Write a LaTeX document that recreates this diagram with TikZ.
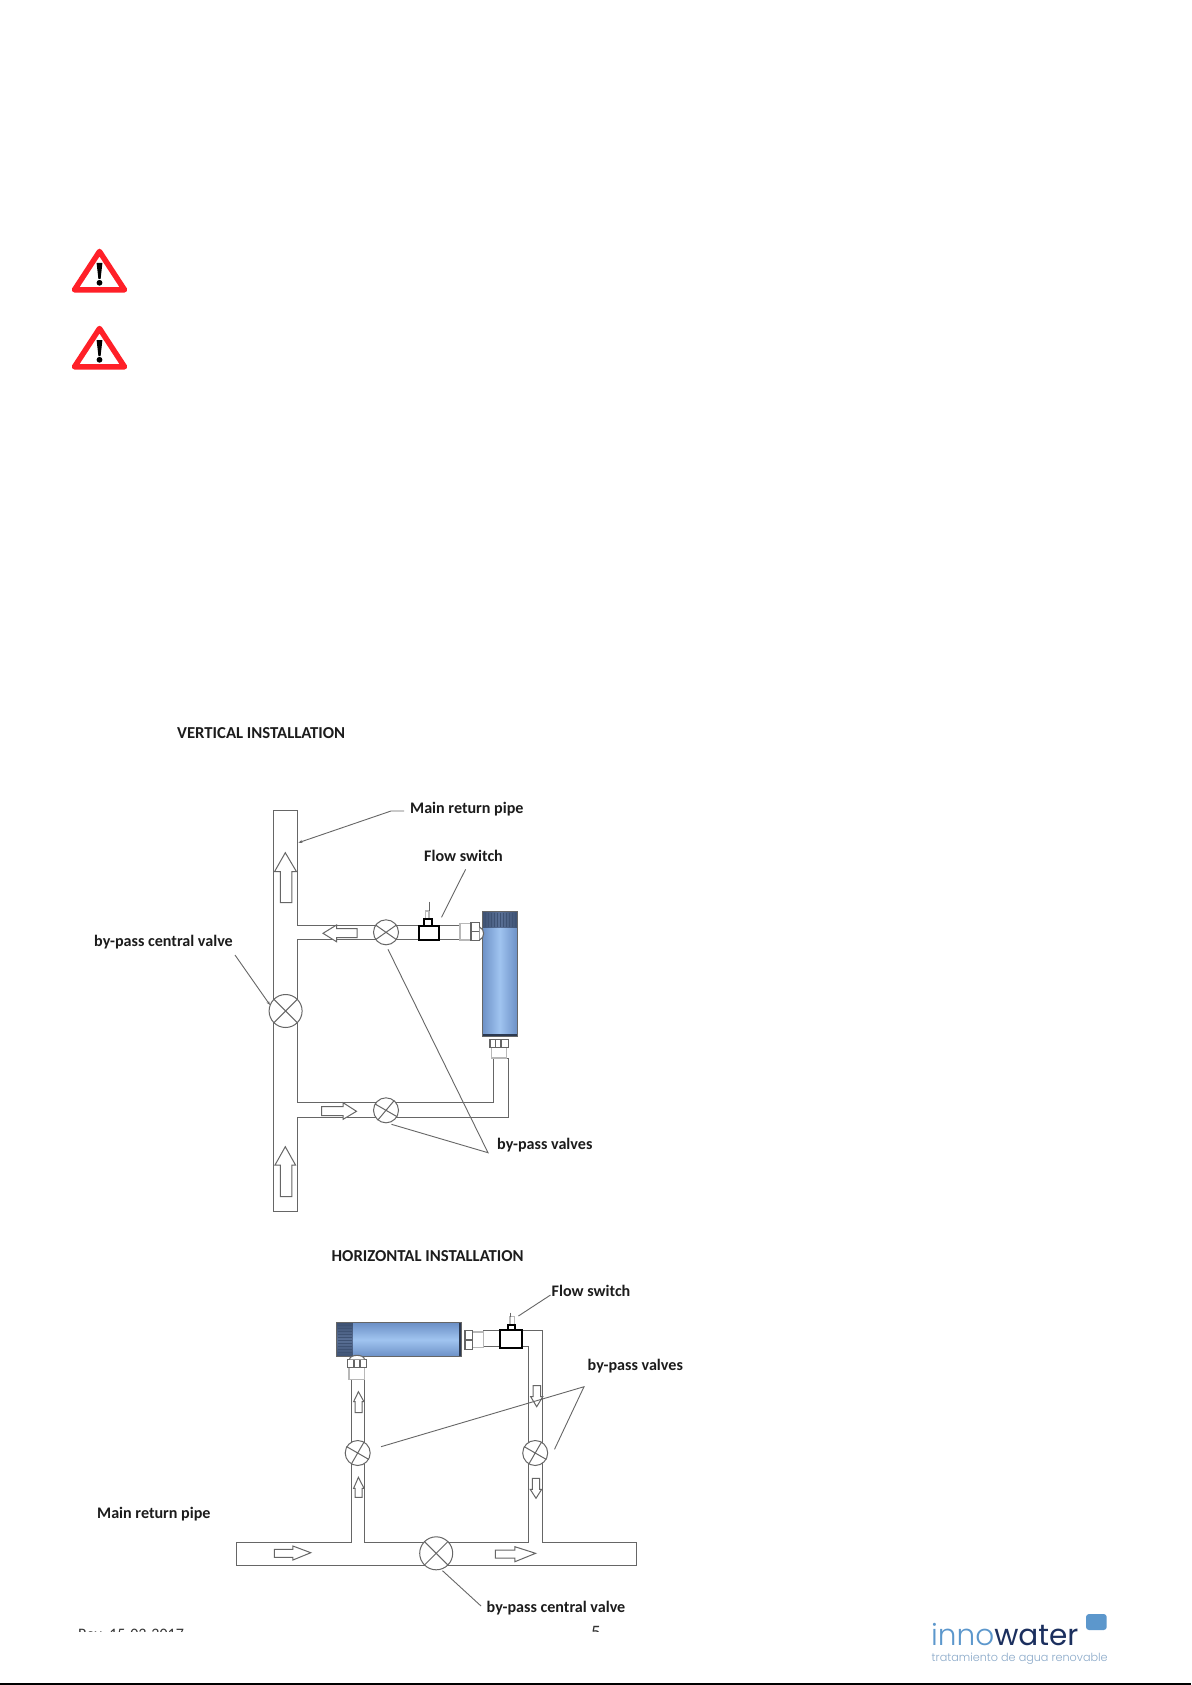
\documentclass[tikz,border=0pt]{standalone}
\usepackage{fontspec}
\setmainfont{Carlito}
\newfontfamily\logofont{Poppins Light}
\newfontfamily\logofontb{Poppins}
\usetikzlibrary{shapes.geometric,arrows.meta}
\definecolor{pipec}{HTML}{666666}
\definecolor{fitc}{HTML}{B8B8B8}
\definecolor{capd}{HTML}{3E5273}
\definecolor{capl}{HTML}{5A7096}
\definecolor{bodyd}{HTML}{6C90C6}
\definecolor{bodyl}{HTML}{A0C4F0}
\definecolor{warnred}{HTML}{FF2028}
\definecolor{logol}{HTML}{5C97CC}
\definecolor{logod}{HTML}{1B2F5E}
\definecolor{logos}{HTML}{8AA9C9}
\definecolor{labelc}{HTML}{1C1C1C}
\tikzset{
 pipe/.style={draw=pipec,line width=1pt},
 fit light/.style={draw=fitc,line width=1.1pt,fill=white},
 fit dark/.style={draw=pipec,line width=1.1pt,fill=white},
 flow/.style={draw=pipec,line width=1pt,fill=white,line join=miter},
 leader/.style={draw=pipec,line width=.9pt},
 lab/.style={font=\fontsize{16.1}{18}\selectfont\bfseries,text=labelc,inner sep=0pt,anchor=west},
 ttl/.style={font=\fontsize{16.7}{18}\selectfont\bfseries,text=labelc,inner sep=0pt,anchor=west},
 valve/.style={ellipse,draw=pipec,line width=1pt,fill=white,minimum width=#1,minimum height=#1,inner sep=0pt},
 switchbox/.style={draw=black,line width=2pt,fill=white},
 warn/.style={draw=warnred,fill=white,line width=5.5pt,line join=round},
 foot/.style={font=\fontsize{16}{18}\selectfont,text=black!80,inner sep=0pt,anchor=base west},
}
\begin{document}
\begin{tikzpicture}[x=1pt,y=-1pt]
\useasboundingbox (0,0) rectangle (1191,1685);
\fill[white] (0,0) rectangle (1191,1685);

% warning signs
\foreach \o in {0,77}{
 \begin{scope}[yshift=-\o pt]
 \draw[warn] (99.5,251.5) -- (124.5,289.8) -- (74.5,289.8) -- cycle;
 \fill[black] (96.6,263) -- (102.4,263) -- (100.6,279) -- (98.4,279) -- cycle;
 \fill[black] (99.5,282.8) circle (2.9);
 \end{scope}
}

% ---------- vertical installation ----------
\node[ttl] (vt) at (177,733.5) {VERTICAL INSTALLATION};
\node[lab] (vmain) at (410,809) {Main return pipe};
\node[lab] (vflow) at (424,856) {Flow switch};
\node[lab] (vcen) at (94,942.5) {by-pass central valve};
\node[lab] (vby) at (497,1145) {by-pass valves};

% pipes
\draw[pipe] (297.2,925.7) -- (297.2,810.7) -- (273.9,810.7) -- (273.9,1211.7) -- (297.2,1211.7) -- (297.2,1117.7) -- (508,1117.7) -- (508,1058) -- (493.4,1058) -- (493.4,1102.7) -- (297.2,1102.7) -- (297.2,939.5) -- (460,939.5) -- (460,925.7) -- cycle;
% fittings
\draw[fit light] (460,923.5) rectangle (471,940);
\draw[fit dark] (471,922.5) rectangle (479.5,940.5);
\draw[fit dark] (471,931.5) -- (479.5,931.5);
\draw[fit light] (491.7,1047.7) rectangle (506.7,1058);
\draw[fit dark] (490,1039.3) rectangle (508.3,1047.7);
\draw[fit dark] (495.5,1039.3) -- (495.5,1047.7) (501,1039.3) -- (501,1047.7);
% filter
\shade[left color=bodyd,right color=bodyd,middle color=bodyl] (482,927.7) rectangle (517.3,1034);
\shade[left color=capd,right color=capd,middle color=capl] (482,911.7) rectangle (517.3,927.7);
\foreach \x in {485,488,...,515}{\draw[capd,line width=.5pt] (\x,912.5) -- (\x,927);}
\fill[capd!70!black] (482,1033.8) rectangle (517.3,1036.7);
\draw[pipec,line width=.7pt] (482,911.7) rectangle (517.3,1036.7);
\draw[fit dark] (479.5,927) .. controls (485,929) and (485,938) .. (479.5,940);
% switch
\draw[fit light] (425.7,911) rectangle (429,919.3);
\draw[pipec,line width=.9pt] (429,901.7) -- (429,911);
\draw[switchbox] (423.7,919.3) rectangle (431.7,925.7);
\draw[switchbox] (418.7,925.7) rectangle (439,940);
% valves
\node[valve=33,name=vvc] at (285.6,1011) {};
\draw[pipe] (vvc.45) -- (vvc.225) (vvc.135) -- (vvc.315);
\node[valve=25,name=vvu] at (386,932.3) {};
\draw[pipe] (vvu.35) -- (vvu.215) (vvu.145) -- (vvu.325);
\node[valve=25,name=vvl] at (386,1110.3) {};
\draw[pipe] (vvl.50) -- (vvl.230) (vvl.150) -- (vvl.330);
% flow arrows
\begin{scope}[xshift=-1.5pt]
\draw[flow] (286.8,852.7) -- (298,871.7) -- (293.3,871.7) -- (293.3,902.7) -- (281.8,902.7) -- (281.8,871.7) -- (276,871.7) -- cycle;
\draw[flow] (286.8,1146.7) -- (297,1165) -- (293.3,1165) -- (293.3,1196.7) -- (281.8,1196.7) -- (281.8,1165) -- (276.5,1165) -- cycle;
\draw[flow] (324.5,933.3) -- (338,925) -- (338,928.7) -- (358.6,928.7) -- (358.6,937.7) -- (338,937.7) -- (338,941.7) -- cycle;
\draw[flow] (358,1111.3) -- (344.6,1102.7) -- (344.6,1106.7) -- (323,1106.7) -- (323,1115.7) -- (344.6,1115.7) -- (344.6,1119.3) -- cycle;
\end{scope}
% leaders
\coordinate (lm0) at (391,811);
\coordinate (lm1) at (404,811);
\coordinate (lm2) at (298.4,842.7);
\draw[leader,-{Stealth[length=4pt,width=3pt]}] (lm1) -- (lm0) -- (lm2);
\coordinate (lf0) at (465.6,869.3);
\coordinate (lf1) at (441.5,917.3);
\draw[leader] (lf0) -- (lf1);
\coordinate (lc0) at (235,955);
\coordinate (lc1) at (270,1005);
\draw[leader,-{Stealth[length=4pt,width=3pt]}] (lc0) -- (lc1);
\coordinate (lb0) at (488,1152.7);
\coordinate (lb1) at (388,949.3);
\coordinate (lb2) at (391.5,1124.3);
\draw[leader] (lb1) -- (lb0) -- (lb2);

% ---------- horizontal installation ----------
\node[ttl] (ht) at (331.5,1256.5) {HORIZONTAL INSTALLATION};
\node[lab] (hflow) at (551.5,1290.5) {Flow switch};
\node[lab] (hby) at (587.5,1366) {by-pass valves};
\node[lab] (hmain) at (97,1514.5) {Main return pipe};
\node[lab] (hcen) at (486.5,1608.5) {by-pass central valve};

\draw[pipe] (351.8,1379.3) -- (351.8,1542.7) -- (236.2,1542.7) -- (236.2,1565) -- (636.6,1565) -- (636.6,1542.7) -- (542.7,1542.7) -- (542.7,1330.7) -- (483.3,1330.7) -- (483.3,1346) -- (528.3,1346) -- (528.3,1542.7) -- (364.8,1542.7) -- (364.8,1379.3) -- cycle;
% fittings
\draw[fit light] (472.7,1332) rectangle (483.3,1347.7);
\draw[fit dark] (465,1330.7) rectangle (472.7,1349.3);
\draw[fit dark] (465,1340) -- (472.7,1340);
\draw[fit light] (349,1367.7) rectangle (364.3,1379.3);
\draw[fit dark] (347.7,1359.3) rectangle (366.7,1367.7);
\draw[fit dark] (354,1359.3) -- (354,1367.7) (360,1359.3) -- (360,1367.7);
% filter
\shade[top color=bodyd,bottom color=bodyd,middle color=bodyl] (352.7,1322.7) rectangle (459,1356.7);
\shade[top color=capd,bottom color=capd,middle color=capl] (336.7,1322.7) rectangle (352.7,1356.7);
\foreach \y in {1325.7,1328.7,...,1354.7}{\draw[capd,line width=.5pt] (337.5,\y) -- (352,\y);}
\fill[capd!70!black] (459,1322.7) rectangle (461.7,1356.7);
\draw[pipec,line width=.7pt] (336.7,1322.7) rectangle (461.7,1356.7);
\draw[fit dark] (349.5,1359.3) .. controls (350,1354) and (364,1354) .. (364.5,1359.3);
% switch
\draw[fit light] (510,1316.7) rectangle (514.7,1325);
\draw[pipec,line width=.9pt] (510.7,1312.7) -- (510.7,1316.7);
\draw[switchbox] (508.3,1325) rectangle (515,1330);
\draw[switchbox] (500,1330) rectangle (521.7,1347.7);
% valves
\node[valve=33,name=hvc] at (436.2,1553.3) {};
\draw[pipe] (hvc.45) -- (hvc.225) (hvc.135) -- (hvc.315);
\node[valve=25,name=hvl] at (357.7,1453) {};
\draw[pipe] (hvl.60) -- (hvl.240) (hvl.150) -- (hvl.330);
\node[valve=25,name=hvr] at (535.2,1453) {};
\draw[pipe] (hvr.60) -- (hvr.240) (hvr.150) -- (hvr.330);
% flow arrows
\begin{scope}[xshift=-1pt]
\draw[flow] (359.4,1391.7) -- (365,1401.7) -- (363,1401.7) -- (363,1412.7) -- (356.2,1412.7) -- (356.2,1401.7) -- (354.6,1401.7) -- cycle;
\draw[flow] (359.4,1477.3) -- (365,1488.3) -- (363,1488.3) -- (363,1497.3) -- (356.2,1497.3) -- (356.2,1488.3) -- (354.6,1488.3) -- cycle;
\end{scope}
\begin{scope}[xshift=-2.3pt]
\draw[flow] (539,1406.7) -- (545,1396.7) -- (543,1396.7) -- (543,1385.7) -- (535.5,1385.7) -- (535.5,1396.7) -- (533,1396.7) -- cycle;
\draw[flow] (538.3,1498.3) -- (544,1489.3) -- (542,1489.3) -- (542,1478.3) -- (534.6,1478.3) -- (534.6,1489.3) -- (532.5,1489.3) -- cycle;
\draw[flow] (537.9,1553.3) -- (517.2,1546.7) -- (517.2,1550) -- (497.7,1550) -- (497.7,1558) -- (517.2,1558) -- (517.2,1561.7) -- cycle;
\end{scope}
\draw[flow] (310.8,1552.7) -- (292.9,1546) -- (292.9,1549.3) -- (274.3,1549.3) -- (274.3,1557.3) -- (292.9,1557.3) -- (292.9,1560) -- cycle;
% leaders
\coordinate (hf0) at (550.5,1295);
\coordinate (hf1) at (518.4,1316);
\draw[leader] (hf0) -- (hf1);
\coordinate (hb0) at (584,1386.7);
\coordinate (hb1) at (381,1446.7);
\coordinate (hb2) at (554.5,1449.3);
\draw[leader] (hb1) -- (hb0) -- (hb2);
\coordinate (hc0) at (481,1606);
\coordinate (hc1) at (442.5,1570.7);
\draw[leader] (hc0) -- (hc1);

% ---------- footer (cut off by the page image) ----------
\node[foot] (rev) at (78,1639.5) {Rev. 15-03-2017};
\node[foot,font=\fontsize{19}{20}\selectfont] (pg) at (591,1638.5) {5};
\fill[white] (0,1632) rectangle (1191,1683);
\draw[black,line width=2pt] (0,1684) -- (1191,1684);

% ---------- logo ----------
\fill[logol,rounded corners=3pt] (1086,1614) rectangle (1106.7,1630);
\node[inner sep=0pt,anchor=base west,font=\fontsize{29.5}{30}\selectfont] (logo) at (931,1645) {\textcolor{logol}{\logofont inno}\textcolor{logod}{\logofontb water}};
\node[inner sep=0pt,anchor=base west,font=\logofont\fontsize{11.2}{12}\selectfont,text=logos] (logosub) at (931.5,1661) {tratamiento de agua renovable};
\end{tikzpicture}
\end{document}
